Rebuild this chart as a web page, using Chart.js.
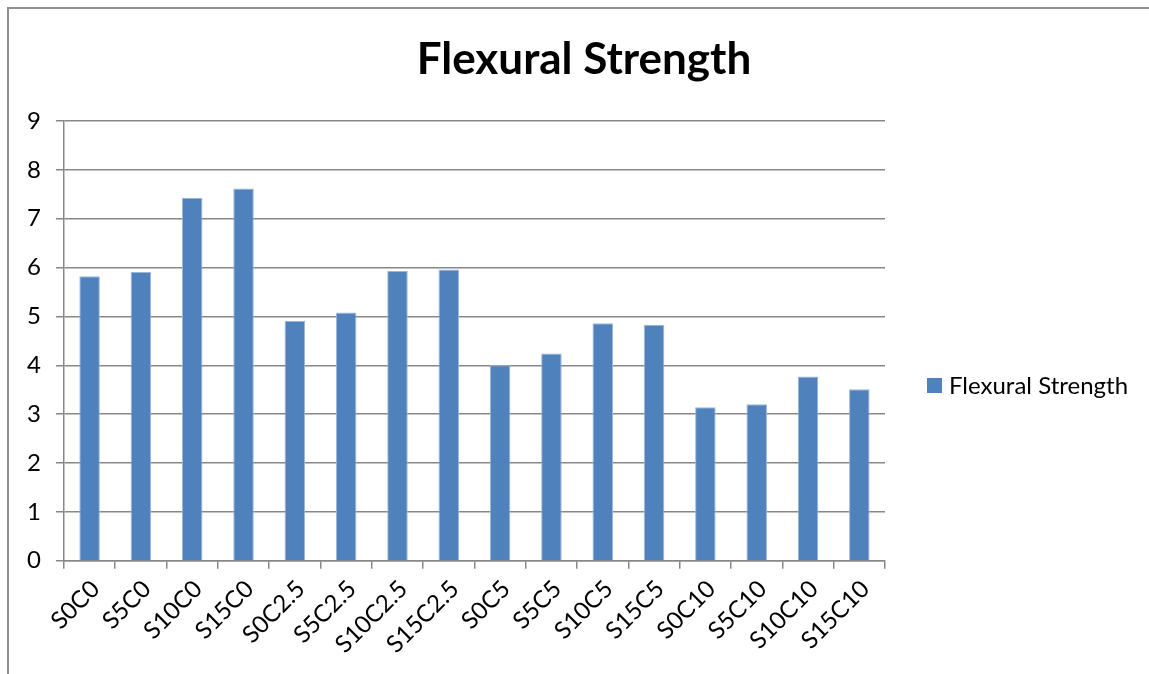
<!DOCTYPE html>
<html>
<head>
<meta charset="utf-8">
<script src="https://cdn.jsdelivr.net/npm/chart.js@4.4.1/dist/chart.umd.min.js"></script>
<style>
  html, body { margin:0; padding:0; background:#fff; }
  #wrap { position:relative; width:1149px; height:674px; }
  #frame { position:absolute; left:7px; top:7px; right:0; bottom:0;
           border-top:2px solid #8f8f8f; border-left:2px solid #8f8f8f; pointer-events:none; }
  canvas { position:absolute; left:0; top:0; }
</style>
</head>
<body>
<div id="wrap">
  <canvas id="chart" width="1149" height="674"></canvas>
  <div id="frame"></div>
</div>
<script>
// data
const TITLE = "Flexural Strength";
const SERIES_LABEL = "Flexural Strength";
const MIXES = ["S0C0","S5C0","S10C0","S15C0","S0C2.5","S5C2.5","S10C2.5","S15C2.5",
               "S0C5","S5C5","S10C5","S15C5","S0C10","S5C10","S10C10","S15C10"];
const STRENGTH = [5.82, 5.91, 7.43, 7.62, 4.91, 5.08, 5.93, 5.96,
                  4.00, 4.24, 4.86, 4.83, 3.14, 3.20, 3.77, 3.51];
const Y_MIN = 0, Y_MAX = 9, Y_STEP = 1;

const BAR = "#4F81BD";
const GRID = "#878787";
const FONT = "Lato, 'Open Sans', sans-serif";

// Excel-style title + right legend, drawn at fixed spots on the canvas
const excelDecor = {
  id: "excelDecor",
  afterDraw(chart){
    const c = chart.ctx;
    c.save();
    c.fillStyle = "#000";
    c.font = "bold 44px " + FONT;
    c.textAlign = "center"; c.textBaseline = "middle";
    c.fillText(TITLE, 584, 60);

    const ds = chart.data.datasets[0];
    c.fillStyle = ds.backgroundColor;
    c.fillRect(927, 378, 15, 15);
    c.fillStyle = "#000";
    c.font = "24px " + FONT;
    c.textAlign = "left";
    c.fillText(ds.label, 949, 386);
    c.restore();
  }
};

new Chart(document.getElementById("chart"), {
  type: "bar",
  data: {
    labels: MIXES,
    datasets: [{
      label: SERIES_LABEL,
      data: STRENGTH,
      backgroundColor: BAR,
      borderColor: "#9db6d8",
      borderWidth: 1,
      categoryPercentage: 1.0,
      barPercentage: 0.4
    }]
  },
  options: {
    responsive: false,
    animation: false,
    layout: { padding: { left: 12, right: 264, top: 121, bottom: 9 } },
    plugins: {
      legend: { display: false },
      title: { display: false },
      tooltip: { enabled: false }
    },
    scales: {
      y: {
        min: Y_MIN, max: Y_MAX,
        ticks: { stepSize: Y_STEP, color: "#000", padding: 15, font: { family: FONT, size: 24 } },
        grid: { color: GRID, lineWidth: 1.5, tickLength: 8 },
        border: { color: GRID, width: 1.5 }
      },
      x: {
        ticks: { color: "#000", minRotation: 45, maxRotation: 45, padding: 6, labelOffset: 6,
                 font: { family: FONT, size: 24 } },
        grid: { drawOnChartArea: false, color: GRID, lineWidth: 1.5, tickLength: 8 },
        border: { color: GRID, width: 1.5 }
      }
    }
  },
  plugins: [excelDecor]
});
</script>
</body>
</html>
